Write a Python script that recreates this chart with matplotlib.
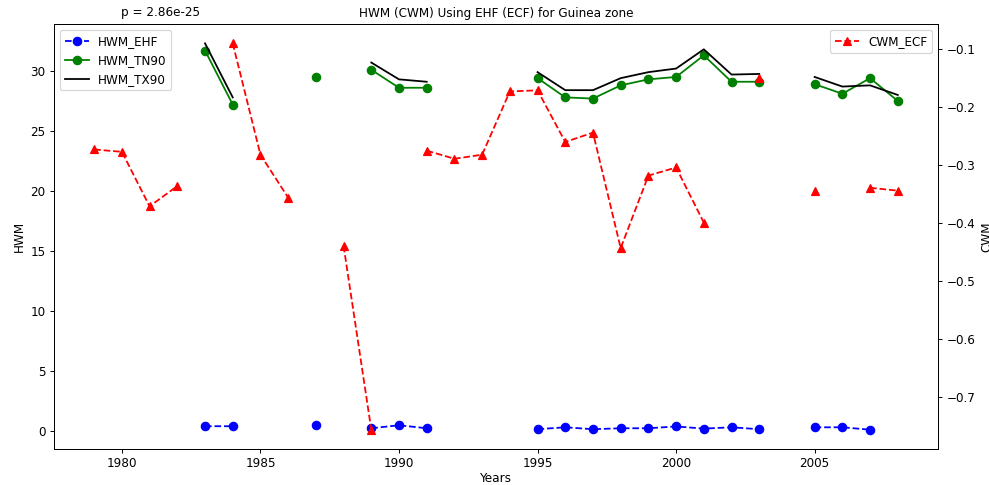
import numpy as np
import matplotlib as mpl
mpl.use('Agg')
import matplotlib.pyplot as plt

nan = np.nan
years = np.arange(1979, 2009)

# HWM from EHF
hwm_ehf = [nan, nan, nan, nan, 0.42, 0.42, nan, nan, 0.5, nan,
           0.25, 0.5, 0.25, nan, nan, nan, 0.17, 0.33, 0.17, 0.25,
           0.25, 0.4, 0.22, 0.33, 0.17, nan, 0.33, 0.33, 0.13, nan]
# HWM from TN90
hwm_tn90 = [nan, nan, nan, nan, 31.7, 27.2, nan, nan, 29.5, nan,
            30.1, 28.6, 28.6, nan, nan, nan, 29.4, 27.8, 27.7, 28.8,
            29.3, 29.5, 31.3, 29.1, 29.1, nan, 28.9, 28.1, 29.4, 27.5]
# HWM from TX90
hwm_tx90 = [nan, nan, nan, nan, 32.3, 27.8, nan, nan, 29.8, nan,
            30.7, 29.3, 29.1, nan, nan, nan, 29.9, 28.4, 28.4, 29.4,
            29.9, 30.2, 31.8, 29.7, 29.75, nan, 29.5, 28.7, 28.8, 28.0]
# CWM from ECF
cwm_ecf = [-0.274, -0.278, -0.372, -0.337, nan, -0.091, -0.283, -0.357, nan, -0.440,
           -0.757, nan, -0.276, -0.290, -0.283, -0.174, -0.172, -0.261, -0.245, -0.444,
           -0.319, -0.305, -0.400, nan, -0.150, nan, -0.345, nan, -0.340, -0.345]

p_text = "p = 2.86e-25"
title = "HWM (CWM) Using EHF (ECF) for Guinea zone"

DPI = 86
fig, ax = plt.subplots(figsize=(989 / DPI, 485 / DPI), dpi=DPI)
fig.subplots_adjust(left=0.0546, right=0.9484, top=0.9505, bottom=0.0742)

ms = 7
ax.plot(years, hwm_ehf, 'bo--', ms=ms, label='HWM_EHF')
ax.plot(years, hwm_tn90, 'go-', ms=ms, label='HWM_TN90')
ax.plot(years, hwm_tx90, 'k-', label='HWM_TX90')
ax.set_xlabel('Years', labelpad=1)
ax.set_ylabel('HWM')
ax.legend(loc='upper left')
ax.set_title(title, fontsize=10)
ax.text(0.076, 1.02, p_text, transform=ax.transAxes, ha='left', va='baseline', fontsize=10)

ax2 = ax.twinx()
ax2.plot(years, cwm_ecf, 'r^--', ms=ms, label='CWM_ECF')
ax2.set_ylabel('CWM')
ax2.legend(loc='upper right')

plt.savefig('out.png', dpi=DPI)
